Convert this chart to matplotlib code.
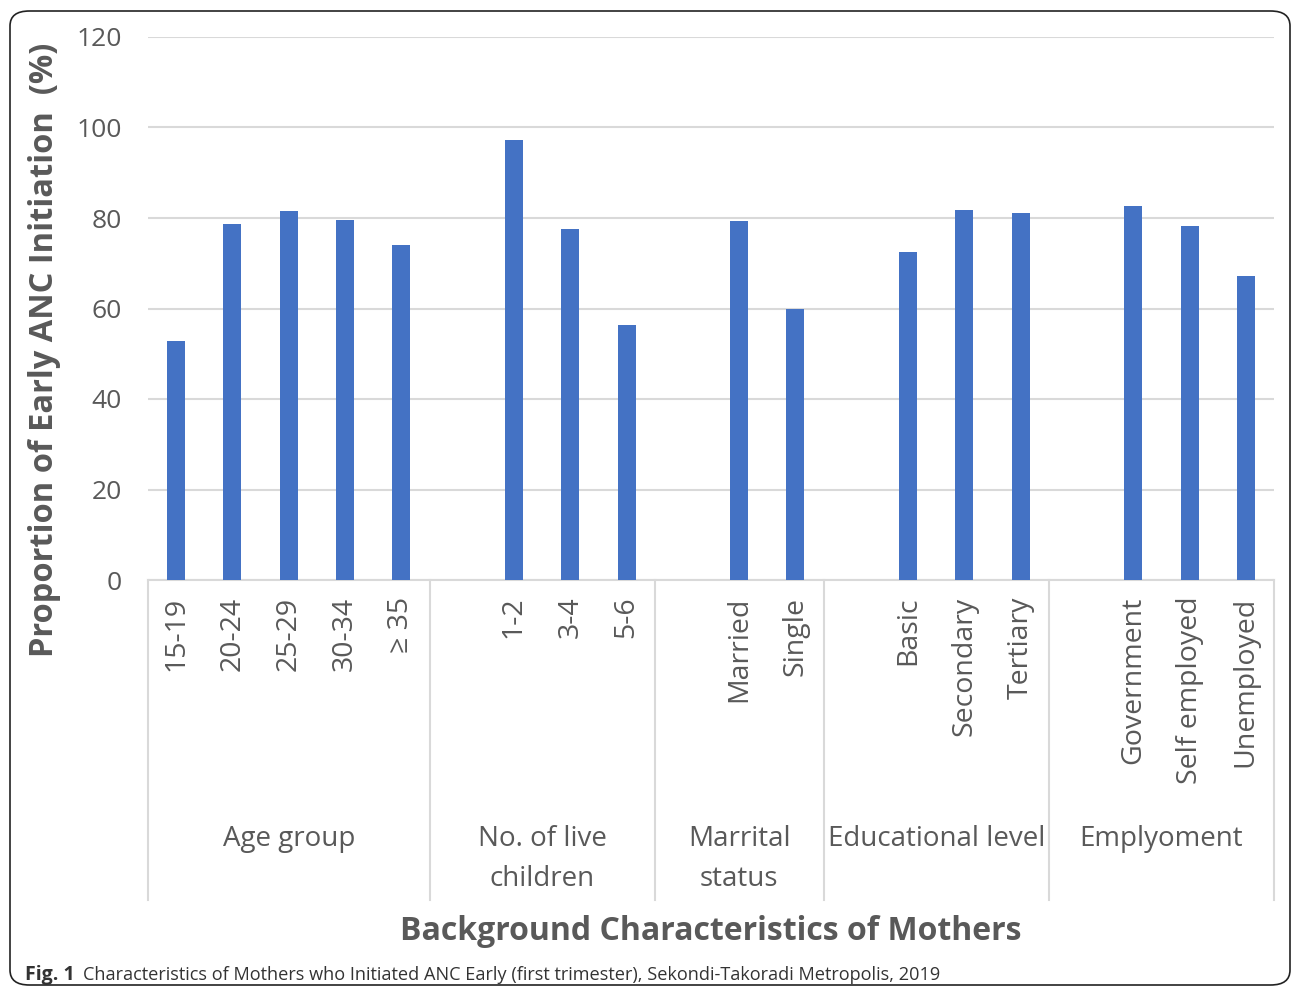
import matplotlib.pyplot as plt
import numpy as np
from matplotlib.patches import FancyBboxPatch
import matplotlib.transforms as mtransforms

plt.rcParams['font.family'] = ['Open Sans', 'DejaVu Sans']

# data
groups = ['Age group', 'No. of live\nchildren', 'Marrital\nstatus', 'Educational level', 'Emplyoment']
age_labels = ['15-19', '20-24', '25-29', '30-34', '\u2265 35']
age_vals = [52.8, 78.7, 81.5, 79.6, 74.0]
child_labels = ['1-2', '3-4', '5-6']
child_vals = [97.2, 77.6, 56.4]
marital_labels = ['Married', 'Single']
marital_vals = [79.3, 59.9]
edu_labels = ['Basic', 'Secondary', 'Tertiary']
edu_vals = [72.5, 81.8, 81.1]
emp_labels = ['Government', 'Self employed', 'Unemployed']
emp_vals = [82.7, 78.2, 67.2]

# every group after the first starts with an empty slot (as in the Excel source)
cats, vals, sizes = [], [], []
for i, (lab, v) in enumerate([(age_labels, age_vals), (child_labels, child_vals),
                               (marital_labels, marital_vals), (edu_labels, edu_vals),
                               (emp_labels, emp_vals)]):
    lab = list(lab); v = list(v)
    if i > 0:
        lab = [''] + lab
        v = [np.nan] + v
    cats += lab
    vals += v
    sizes.append(len(lab))

x = np.arange(len(cats))
gray = '#595959'
grid_c = '#d9d9d9'

fig = plt.figure(figsize=(12.92, 9.93), dpi=100)
W, H = 1292, 993
ax = fig.add_axes([148 / W, 1 - 580 / H, (1274 - 148) / W, (580 - 37) / H])

ax.bar(x, vals, width=0.32, color='#4472C4', zorder=3)
ax.set_xlim(-0.5, len(cats) - 0.5)
ax.set_ylim(0, 120)
ax.set_yticks(np.arange(0, 121, 20))
ax.yaxis.grid(True, color=grid_c, lw=1.5, zorder=0)
for s in ['top', 'right', 'left']:
    ax.spines[s].set_visible(False)
ax.spines['bottom'].set_color(grid_c)
ax.spines['bottom'].set_linewidth(1.5)
ax.tick_params(axis='y', length=0, labelsize=19, labelcolor=gray, pad=19)
ax.set_xticks(x)
ax.set_xticklabels(cats, rotation=90, fontsize=20.5, color=gray)
ax.tick_params(axis='x', length=0, pad=12)

# group separators and labels
trans = mtransforms.blended_transform_factory(ax.transData, ax.transAxes)
bounds = np.concatenate([[0], np.cumsum(sizes)]) - 0.5
for b in bounds:
    ax.plot([b, b], [0, -0.589], color=grid_c, lw=1.5, transform=trans, clip_on=False)
for i, g in enumerate(groups):
    cx = (bounds[i] + bounds[i + 1]) / 2
    ax.text(cx, -0.452, g, transform=trans, ha='center', va='top', fontsize=20,
            color=gray, linespacing=1.53)

fig.text(45 / W, 1 - 350 / H, 'Proportion of Early ANC Initiation  (%)', rotation=90,
         ha='center', va='center', fontsize=23.5, fontweight='bold', color=gray)
fig.text(711 / W, 1 - 931 / H, 'Background Characteristics of Mothers', ha='center',
         va='center', fontsize=23, fontweight='bold', color=gray)

# caption
fig.text(25 / W, 1 - 975 / H, 'Fig. 1', ha='left', va='center', fontsize=14,
         fontweight='bold', color='#333333')
fig.text(83 / W, 1 - 975 / H,
         'Characteristics of Mothers who Initiated ANC Early (first trimester), Sekondi-Takoradi Metropolis, 2019',
         ha='left', va='center', fontsize=13.1, color='#333333')

# rounded frame
frame = FancyBboxPatch((10 / W, 8 / H), 1280 / W, 974 / H,
                       boxstyle='round,pad=0,rounding_size=0.015',
                       transform=fig.transFigure, fill=False, ec='#222222', lw=1.2)
fig.patches.append(frame)

fig.savefig('out.png', dpi=100)
